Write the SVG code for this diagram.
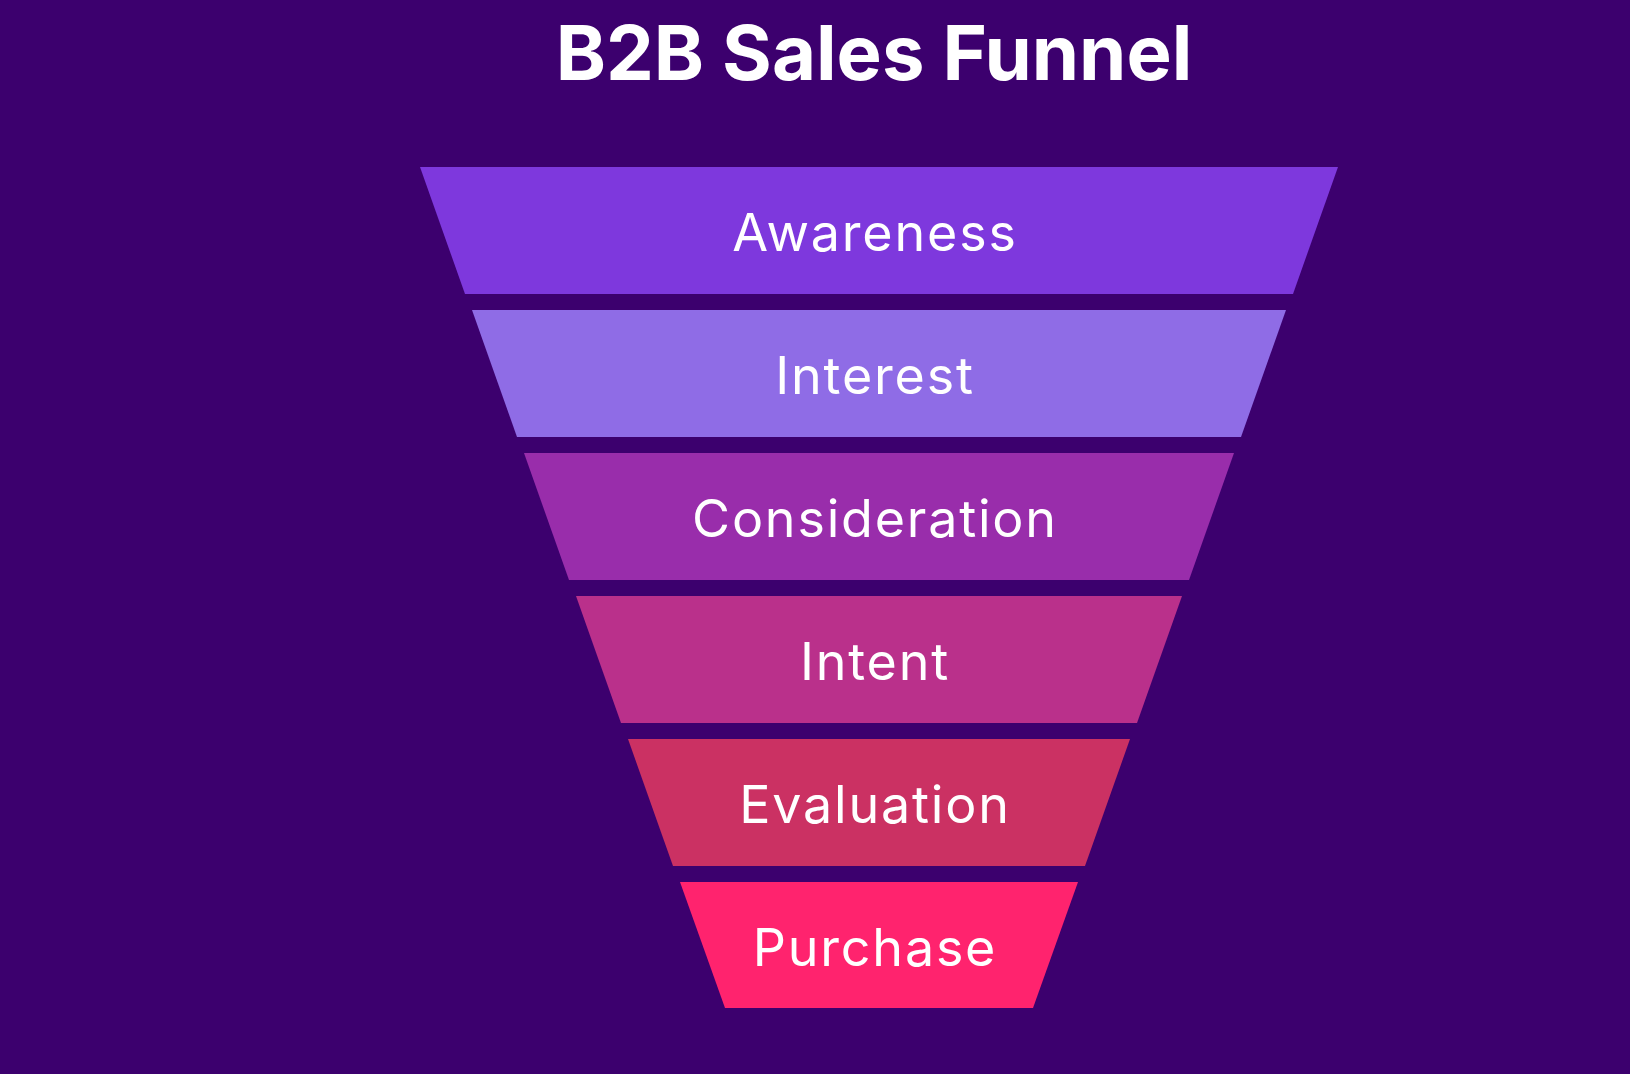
<svg xmlns="http://www.w3.org/2000/svg" width="1630" height="1074" viewBox="0 0 1630 1074">
<style>
.bg{fill:#3c006e}
.title{font-family:Inter,"Liberation Sans",sans-serif;font-weight:700;font-size:76px;fill:#ffffff;text-anchor:middle}
.lbl{font-family:Inter,"Liberation Sans",sans-serif;font-weight:400;font-size:52px;letter-spacing:1.8px;fill:#ffffff;text-anchor:middle}
</style>
<rect class="bg" x="0" y="0" width="1630" height="1074"/>
<text class="title" x="874" y="80">B2B Sales Funnel</text>
<g id="awareness">
<polygon points="420,167 1338,167 1293,294 465,294" fill="#7e38dd"/>
<text class="lbl" x="875" y="251">Awareness</text>
</g>
<g id="interest">
<polygon points="472,310 1286,310 1241,437 517,437" fill="#8f6ce6"/>
<text class="lbl" x="875" y="394">Interest</text>
</g>
<g id="consideration">
<polygon points="524,453 1234,453 1189,580 569,580" fill="#992dab"/>
<text class="lbl" x="875" y="537">Consideration</text>
</g>
<g id="intent">
<polygon points="576,596 1182,596 1137,723 621,723" fill="#ba308b"/>
<text class="lbl" x="875" y="680">Intent</text>
</g>
<g id="evaluation">
<polygon points="628,739 1130,739 1085,866 673,866" fill="#cb3163"/>
<text class="lbl" x="875" y="823">Evaluation</text>
</g>
<g id="purchase">
<polygon points="680,882 1078,882 1033,1008 725,1008" fill="#ff236e"/>
<text class="lbl" x="875" y="966">Purchase</text>
</g>
<g id="connectors"/>
</svg>
